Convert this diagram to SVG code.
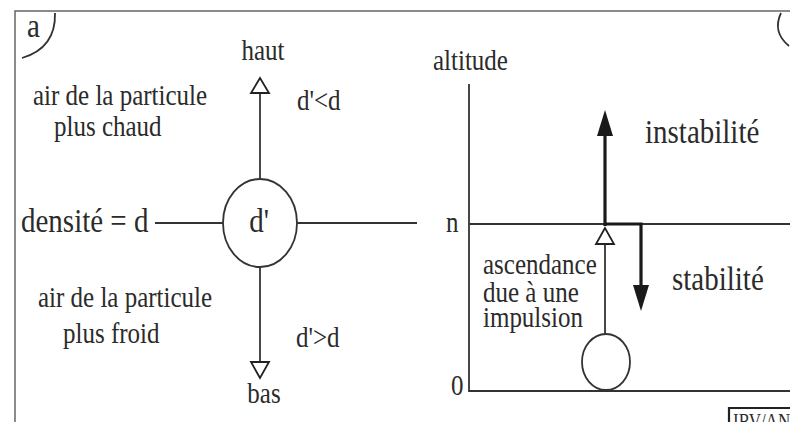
<svg xmlns="http://www.w3.org/2000/svg" width="790" height="422" viewBox="0 0 790 422">
<defs>
<style>
text{font-family:"Liberation Serif","Times New Roman",serif;fill:#2b2b2b}
.t25{font-size:25px}
.t29{font-size:29px}
.ln{stroke:#333;stroke-width:1.8;fill:none}
.thk{stroke:#1a1a1a;stroke-width:3.2;fill:none}
.open{fill:#fff;stroke:#222;stroke-width:1.8;stroke-linejoin:miter}
.solid{fill:#1a1a1a;stroke:none}
.node{fill:#fff;stroke:#333;stroke-width:1.8}
</style>
</defs>
<rect width="790" height="422" fill="#fff"/>
<g id="frame">
<path d="M15,422 V11 H790" fill="none" stroke="#666" stroke-width="1.5"/>
<text class="t29" transform="translate(27 37) scale(1 1.18)">a</text>
<path class="ln" d="M22,58 Q56,48 55,13"/>
<path class="ln" d="M781,13 Q772,32 789,46"/>
<path d="M729,422 V408 H790" fill="none" stroke="#222" stroke-width="2.2"/>
<text transform="translate(733 428) scale(1 1.18)" style="font-size:17px">IRV/AN</text>
</g>
<g id="labels-left">
<text class="t25" transform="translate(33 105) scale(1 1.18)">air de la particule</text>
<text class="t25" transform="translate(54 136) scale(1 1.18)">plus chaud</text>
<text class="t25" transform="translate(38 307) scale(1 1.18)">air de la particule</text>
<text class="t25" transform="translate(63 343) scale(1 1.18)">plus froid</text>
<text class="t25" text-anchor="middle" transform="translate(263 60) scale(1 1.18)">haut</text>
<text class="t25" text-anchor="middle" transform="translate(264 403) scale(1 1.18)">bas</text>
<text class="t25" transform="translate(297 110) scale(1 1.18)">d'&lt;d</text>
<text class="t25" transform="translate(296 347) scale(1 1.18)">d'&gt;d</text>
<text class="t29" transform="translate(21 232) scale(1 1.18)">densité = d</text>
</g>
<g id="particle-a">
<ellipse class="node" cx="260" cy="223" rx="37" ry="44"/>
<text class="t29" text-anchor="middle" transform="translate(259 232) scale(1 1.18)">d'</text>
</g>
<g id="axis-b">
<text class="t25" transform="translate(433 70) scale(1 1.18)">altitude</text>
<path class="ln" d="M469,84 V391 H790"/>
<path class="ln" d="M469,224 H790"/>
<text class="t25" transform="translate(446 232) scale(1 1.18)">n</text>
<text class="t25" transform="translate(451 395) scale(1 1.18)">0</text>
</g>
<g id="labels-right">
<text class="t29" transform="translate(645 143) scale(1 1.18)">instabilité</text>
<text class="t29" transform="translate(672 290) scale(1 1.18)">stabilité</text>
<text class="t25" transform="translate(483 274) scale(1 1.18)">ascendance</text>
<text class="t25" transform="translate(483 302) scale(1 1.18)">due à une</text>
<text class="t25" transform="translate(483 327) scale(1 1.18)">impulsion</text>
</g>
<g id="particle-b">
<ellipse class="node" cx="606" cy="362" rx="24" ry="28"/>
</g>
<g id="connectors">
<path class="ln" d="M155,223 H223 M297,223 H417"/>
<path class="ln" d="M260,179 V93"/>
<polygon class="open" points="260,78 251,93 269,93"/>
<path class="ln" d="M260,267 V362"/>
<polygon class="open" points="260,378 251,362 269,362"/>
<path class="ln" d="M605,334 V244"/>
<polygon class="open" points="605,228 596,244 614,244"/>
<path class="thk" d="M605,226 V132"/>
<polygon class="solid" points="605,110 597,136 613,136"/>
<path class="thk" d="M605,224 H641 V288"/>
<polygon class="solid" points="641,311 633,285 649,285"/>
</g>
</svg>
